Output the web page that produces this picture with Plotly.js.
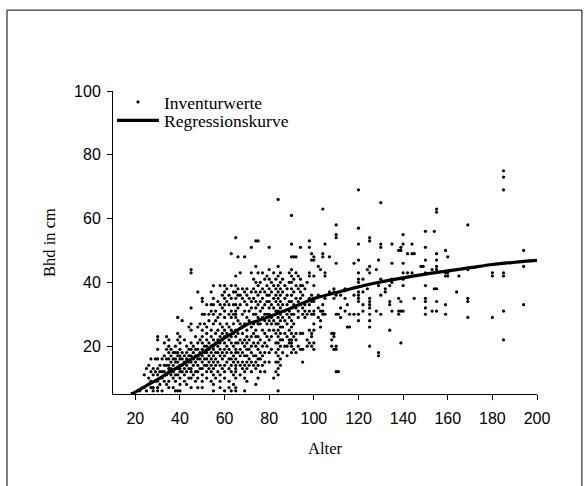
<!DOCTYPE html>
<html>
<head>
<meta charset="utf-8">
<script src="https://cdn.plot.ly/plotly-3.0.1.min.js"></script>
<style>html,body{margin:0;padding:0;background:#fff;}#chart{width:587px;height:486px;}</style>
</head>
<body>
<div id="chart"></div>
<script>
// Inventurwerte: ages (Alter) and the Bhd values (cm) observed at each age
const ageColumns = [
  22,24,25,26,27,28,29,30,31,32,33,34,35,36,37,38,39,40,41,42,43,44,45,46,47,48,49,50,
  51,52,53,54,55,56,57,58,59,60,61,62,63,64,65,66,67,68,69,70,71,72,73,74,75,76,77,78,79,80,
  81,82,83,84,85,86,87,88,89,90,91,92,93,94,95,96,97,98,99,100,102,103,104,105,107,108,109,110,
  111,112,114,115,116,118,120,122,124,125,128,129,130,132,134,135,138,139,140,142,144,145,148,149,
  150,153,154,155,159,160,164,165,169,180,185,194
];
const bhdByAge = [
  [6],[11,7],[13,6],[14,10,8],[16,12,9,7],[13,11,7,6],[16,12,9],[23,22,19,16,13,11,9,7,6],[14,12,8],[16,12,10,6],
  [21,17,14,12,9],[23,19,16,14,11,8],[22,20,18,16,14,13,12,9,7],[19,17,15,13,11],[18,16,14,12,10,7],
  [20,18,16,15,13,11,9,6],[29,24,22,18,17,15,13,11,6],[23,21,19,17,16,14,13,12,10,8,6],[28,18,16,14,12],
  [22,17,15,13,11,9],[20,18,16,14,12,8],[26,19,17,15,13,10],[44,43,32,27,25,21,19,17,15,13,12,10,7],
  [20,18,16,14,11],[23,19,17,15,12,9],[37,26,21,19,17,16,14,12,10,7],[27,22,18,16,13],
  [35,34,30,25,23,21,19,17,15,13,11,9,7],
  [30,27,20,18,16,14],[33,26,24,22,20,18,16,14,12,10],[30,28,21,19,17,15,13],[37,33,31,25,23,20,18,16,14,12,9],
  [39,35,33,30,27,22,20,19,17,15,13,11,8,6],[31,28,24,21,18,16,14,10],[34,29,25,22,20,18,15,12],
  [39,33,30,27,23,21,19,17,14,11,9,7],[36,32,26,24,22,18,16,13],[39,37,35,33,31,29,25,23,21,19,17,14,12,10,6],
  [38,34,27,24,20,18,15],[36,33,30,26,22,19,16,13,9,7],[49,39,35,31,29,25,23,21,18,16,14,12,6],
  [37,33,30,27,24,20,17,15,11,8],[54,42,39,37,35,33,31,30,29,25,23,21,19,18,16,14,13,12,10,7,6],
  [48,38,36,32,28,24,21,18,15],[43,36,33,27,22,19,17,14,11],[38,35,30,26,24,21,18,15,13],
  [48,37,34,31,27,22,20,17,14,12,10,6],[38,36,33,29,25,23,21,19,17,15,13,9],[35,31,28,22,19,16,14],
  [51,43,37,34,32,26,23,20,18,15,12],[41,38,35,30,27,24,21,17,14],[53,45,40,37,34,32,30,25,23,20,17,15,13,8],
  [53,43,39,36,33,29,27,23,21,19,16,14,10],[40,37,34,31,27,22,18,16,12],[43,38,35,32,29,25,20,17,14],
  [41,37,33,30,28,24,21,18,15,12],[42,39,36,34,30,27,23,20],[51,44,41,38,36,34,32,30,28,25,22,18,15],
  [40,37,33,29,27,23,19],[43,39,35,32,28,25,10],[41,38,36,34,31,27,24,21,18,15,12],
  [66,45,42,39,37,35,33,31,29,27,25,23,21,19,17,15,13,11,6],[43,40,38,36,34,32,30,28,26,24,22,20,16,14],
  [41,37,33,29,26,22,18],[39,35,31,28,24,20],[38,36,33,30,27,23,20,17],[43,40,34,31,29,25,22,21],
  [61,52,48,44,42,40,38,36,34,32,30,28,26,24,22,21,20,18],[48,41,37,33,30,27,23,19],[48,43,39,35,32,24,22,18],
  [42,38,34,31,29,20],[51,41,39,37,35,33,24,19],[39,36,32,30,24,19,15],[38,33,31,29],[40,34,30,22,20],
  [53,51,43,42,35,33,31,25,21],[49,47,36,34,30,24,23,20],[48,47,42,39,35,34,31,30,27,25,21,19],
  [45,36,32,29],[44,31,28,26],[63,49,48,33,31,30],[52,43,42,35,30],[48,37],[24,22,20],[38,37,35,24,23,19],
  [58,55,54,46,36,30,20,19,12],
  [30,12],[36,32,29],[38,35,31],[33,26],[30,26],[46,36,30],[69,57,52,47,43,41,40,37,36,35,34,30,28],
  [41,37,33,31],[44,38],[54,53,45,43,35,34,33,32,30,28,26,20],[44,31],[47,40,39,18,17],[65,52,51,41,36,30],
  [38,37],[39,34,33,25],[52,46,41,40,31],[50,35,31,30],[51,50,34,31,21],[55,52,46,43,41,39,31],[49,43],
  [52,49,43],[49,35],[45],[45],
  [56,51,47,43,39,35,34,32,30],[44,31],[56,38],[63,62,49,47,45,44,38,34,31],[50,43,42,33,30],[48,43,42],
  [37],[42],[58,44,35,34,29],[43,42,29],[75,73,69,46,43,42,31,22],[50,45,33]
];

// Regressionskurve
const curveAlter = [18,20,25,30,35,40,45,50,55,60,65,70,75,80,85,90,95,100,110,120,130,140,150,160,170,180,190,200];
const curveBhd   = [5.0,5.6,7.6,9.6,11.7,13.8,15.9,17.9,20.3,22.6,24.7,26.8,28.0,29.2,30.6,32.0,33.5,34.9,36.8,38.6,40.1,41.4,42.6,43.6,44.6,45.6,46.3,46.9];

const xTicks = [20,40,60,80,100,120,140,160,180,200];
const yTicks = [20,40,60,80,100];

const ptsX = [], ptsY = [];
ageColumns.forEach((a, i) => bhdByAge[i].forEach(v => { ptsX.push(a); ptsY.push(v); }));

const serif = 'Liberation Serif, Times New Roman, serif';
const sans = 'Liberation Sans, Arial, sans-serif';

const traces = [
  {
    x: ptsX, y: ptsY, type: 'scatter', mode: 'markers', name: 'Inventurwerte', legend: 'legend',
    marker: {color: '#000', size: 3.2, line: {width: 0}}, hoverinfo: 'x+y'
  },
  {
    x: curveAlter, y: curveBhd, type: 'scatter', mode: 'lines', name: 'Regressionskurve', legend: 'legend2',
    line: {color: '#000', width: 3.2, shape: 'spline'}
  }
];

const legendCommon = {
  xanchor: 'left', yanchor: 'top',
  bgcolor: 'rgba(0,0,0,0)', borderwidth: 0,
  font: {family: serif, size: 17.5, color: '#000'},
  itemwidth: 42
};

const axisCommon = {
  showline: true, linecolor: '#000', linewidth: 1,
  ticks: 'outside', ticklen: 5, tickcolor: '#000', tickwidth: 1,
  showgrid: false, zeroline: false,
  tickfont: {family: sans, size: 16, color: '#000'}
};

const layout = {
  width: 587, height: 486,
  margin: {l: 113, r: 50, t: 91, b: 92, pad: 0},
  paper_bgcolor: '#fff', plot_bgcolor: '#fff',
  showlegend: true,
  legend: Object.assign({x: -0.0024, y: 1.023}, legendCommon),
  legend2: Object.assign({x: -0.0024, y: 0.962}, legendCommon),
  xaxis: Object.assign({
    range: [10, 200], tickvals: xTicks, ticktext: xTicks.map(String),
    ticklabelstandoff: 5,
    title: {text: 'Alter', font: {family: serif, size: 16.5, color: '#000'}, standoff: 16}
  }, axisCommon),
  yaxis: Object.assign({
    range: [5, 100], tickvals: yTicks, ticktext: yTicks.map(String),
    ticklabelstandoff: 3,
    title: {text: 'Bhd in cm', font: {family: serif, size: 16.5, color: '#000'}, standoff: 14}
  }, axisCommon),
  shapes: [
    {type: 'line', xref: 'paper', yref: 'paper', x0: -0.25, x1: -0.25, y0: 1.267, y1: -0.4, line: {color: '#000', width: 1}},
    {type: 'line', xref: 'paper', yref: 'paper', x0: -0.25, x1: 1.106, y0: 1.267, y1: 1.267, line: {color: '#000', width: 1}},
    {type: 'line', xref: 'paper', yref: 'paper', x0: 1.106, x1: 1.106, y0: 1.267, y1: -0.4, line: {color: '#000', width: 1}}
  ]
};

Plotly.newPlot('chart', traces, layout, {displayModeBar: false, staticPlot: true});
</script>
</body>
</html>
